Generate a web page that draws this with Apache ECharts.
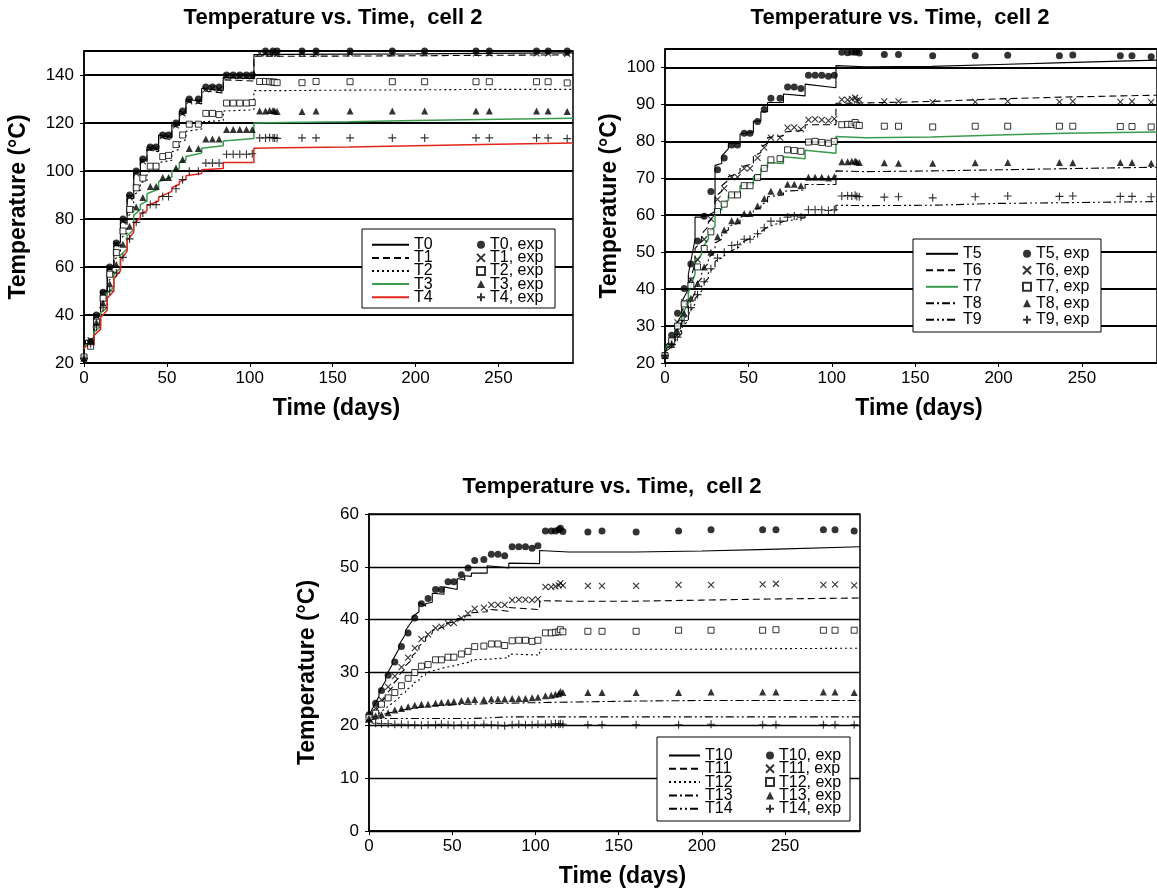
<!DOCTYPE html>
<html>
<head>
<meta charset="utf-8">
<title>Temperature vs. Time, cell 2</title>
<script src="https://cdn.jsdelivr.net/npm/echarts@6/dist/echarts.min.js"></script>
<style>
  html, body { margin: 0; padding: 0; background: #fff; }
  #chart { width: 1157px; height: 893px; }
</style>
</head>
<body>
<div id="chart"></div>
<script>
// measurement days (shared by all thermocouples)
const expDays = [0, 4, 7.5, 11.5, 15.5, 19.5, 23.5, 27.5, 31.5, 35.5,
  40, 43.5, 47.5, 51, 55.5, 59.5, 63.5, 69, 73.5, 77.5,
  81.5, 86, 90, 94, 98, 101.5, 106, 109.5, 112, 114,
  115, 116.5, 131.5, 140, 160.5, 186, 205.5, 236.5, 244.5, 273,
  280, 291.5];

// model output days (duplicated days = heater step)
const simDays = [0, 1, 6, 6, 10, 10, 14, 14, 18, 18,
  22, 22, 26, 26, 30, 30, 34, 34, 38, 38,
  45, 45, 53, 53, 57.5, 57.5, 61.5, 61.5, 71, 71,
  84, 84, 102.5, 102.5, 120, 160, 200, 240, 295];

// ---- panel 1 : T0 - T4
const t0Exp = [22, 29, 40, 49.5, 60, 70, 80, 90, 100, 105,
  110, 110, 115, 115, 120, 125, 130, 130, 135, 135,
  135, 140, 140, 140, 140, 140, 150.2, 150, 150.3, 150,
  150.2, 150, 150, 150, 150, 150, 150, 150, 150, 150,
  150, 150];
const t1Exp = [22, 29.5, 39.5, 49, 59.5, 69.5, 79, 89, 99, 104,
  109.5, 109.5, 114.5, 114.5, 119, 124, 129, 129, 134, 134.5,
  134, 139.5, 139.5, 139.5, 139.5, 139.5, 149, 149, 149.2, 149,
  149, 148.8, 149, 149, 149, 149, 149, 149, 149, 149,
  149, 148.8];
const t2Exp = [22.5, 27, 37, 47, 57, 66, 75, 84, 93, 97,
  102, 102, 106, 106.5, 111, 115, 119.5, 119.5, 124, 124,
  123.5, 128.3, 128.3, 128.3, 128.3, 128.5, 137.3, 137.3, 137.2, 137,
  137, 136.8, 136.8, 137.3, 137.2, 137.2, 137.2, 137.2, 137.2, 137.2,
  137.2, 136.7];
const t3Exp = [22, 29, 37, 45, 53, 61, 69.5, 77, 85, 89,
  93.5, 93.5, 97.3, 97.3, 101.2, 104.8, 109.4, 109.4, 113.3, 113.3,
  113.3, 117.3, 117.3, 117.3, 117.3, 117.3, 125, 125, 125.2, 125.2,
  125, 124.8, 124.8, 125, 125, 125, 125, 125, 125, 125,
  125, 124.8];
const t4Exp = [22, 28, 35, 43, 50, 57.5, 64, 71.7, 78.6, 82.5,
  86, 86, 89.4, 89.4, 92.6, 96.4, 99.9, 99.9, 103.3, 103.3,
  103.3, 107, 107, 107, 107, 107.2, 113.8, 113.8, 114, 113.8,
  113.8, 113.6, 113.8, 113.8, 113.8, 113.8, 113.8, 113.8, 113.8, 113.8,
  113.8, 113.5];

const t0Sim = [26, 29.5, 29.5, 40, 40, 50, 50, 60, 60, 70,
  70, 80, 79.5, 90, 89.5, 100, 99.5, 105, 104.5, 110,
  109, 115, 114, 120, 119, 125, 124, 130, 129, 134.5,
  133.5, 139, 138.5, 148.5, 148.6, 148.7, 148.8, 149, 149.2];
const t1Sim = [26, 29, 29, 39.5, 39.5, 49.5, 49.5, 59, 59, 69,
  69, 79, 78.5, 89, 88.5, 99, 98.5, 104, 103.5, 109,
  108, 114, 113, 119, 118, 124, 123, 129, 128, 133.5,
  132.5, 138, 137.5, 147.8, 147.8, 147.9, 148, 148.2, 148.4];
const t2Sim = [26, 28, 28.5, 36, 37, 45, 46.5, 54, 56, 63,
  65, 72, 74, 81, 83, 90, 92, 95, 96, 99.5,
  100.5, 103.5, 104.5, 108, 109, 112, 113, 116.5, 117.5, 120.5,
  121, 125, 125.5, 133.5, 133.5, 133.7, 133.8, 134, 134];
const t3Sim = [26, 27.5, 28, 33, 35, 41, 43, 49, 51.5, 57,
  59.5, 65, 67.5, 73, 75.5, 81.5, 84, 86, 87.5, 90.5,
  92.5, 95.5, 97.5, 100, 101, 103.5, 104.5, 106, 107.5, 109.5,
  110.5, 112.5, 113.5, 120, 120.2, 120.5, 121, 121.5, 122];
const t4Sim = [26, 27, 27.5, 31.5, 34, 39, 42, 47, 50, 55,
  58.5, 63, 66.5, 71, 74.5, 78, 80.5, 82, 83.5, 85.5,
  87.5, 89, 91.5, 93, 94.5, 95.5, 96.5, 98, 99, 100.5,
  101, 103.5, 103.5, 109.5, 109.7, 110, 110.5, 111, 111.7];

// ---- panel 2 : T5 - T9
const t5Exp = [22, 27.5, 33.5, 40.2, 46.8, 53, 59.7, 66.4, 72.3, 75.5,
  79, 79, 82.2, 82.2, 85.4, 88.6, 91.7, 91.7, 94.7, 94.7,
  94.3, 97.9, 97.9, 97.9, 97.6, 97.9, 104.1, 104, 104.2, 104.1,
  104.3, 103.9, 103.5, 103.5, 103.2, 103.2, 103.3, 103.2, 103.4, 103.2,
  103.2, 102.9];
const t6Exp = [22, 26, 31, 36.5, 42.5, 48, 53.5, 59, 64.3, 67.3,
  70.3, 70.3, 72.7, 72.7, 75.5, 78.3, 81, 81, 83.7, 83.8,
  83.3, 85.8, 86, 85.8, 85.6, 86.1, 91.3, 91.2, 91.5, 91.8,
  91, 91.2, 90.8, 90.8, 90.6, 90.7, 90.8, 90.7, 90.8, 90.7,
  90.8, 90.6];
const t7Exp = [22, 26, 30, 36, 41, 46, 51, 55.5, 61, 63,
  65.5, 65.5, 68, 68, 70.2, 72.7, 75, 75.3, 77.7, 77.5,
  77.3, 79.8, 80, 79.7, 79.5, 80, 84.5, 84.6, 84.6, 85.1,
  84.4, 84.3, 84.1, 84.1, 83.9, 84.1, 84.1, 84.1, 84.1, 84,
  84, 83.9];
const t8Exp = [22, 25, 28.5, 33.5, 37.5, 41.5, 46, 50, 54.2, 56,
  58.5, 58.5, 60.5, 60.5, 62.5, 64.5, 66.5, 66.5, 68.4, 68.4,
  68, 70.3, 70.3, 70.3, 70.1, 70.4, 74.5, 74.5, 74.6, 74.7,
  74.4, 74.3, 74.2, 74.1, 74.1, 74.2, 74.3, 74.3, 74.2, 74.3,
  74.3, 74.1];
const t9Exp = [22, 25, 27, 31.5, 35, 38.5, 42, 45.5, 48.4, 50,
  51.8, 52, 53.5, 53.5, 55, 56.6, 58.4, 58.4, 59.5, 59.8,
  59.5, 61.5, 61.5, 61.5, 61.3, 61.5, 65.2, 65.3, 65.2, 65.4,
  65.1, 65, 64.9, 65, 64.7, 65, 65.2, 65.1, 65.2, 65.1,
  65.1, 65];

const t5Sim = [23, 25, 27, 30, 33, 36.5, 40, 44, 53.5, 59.5,
  59.5, 59.5, 60, 60.5, 61, 73.5, 74, 76, 78, 79.5,
  79.5, 82, 82.5, 85.5, 85.5, 88, 88, 90.5, 90.5, 92.8,
  92.3, 95.5, 94.5, 100.5, 100.2, 100.3, 100.8, 101.3, 102];
const t6Sim = [23, 24.5, 26, 28.5, 31, 34, 37, 40.5, 47, 51,
  53, 55, 57, 58, 60, 65, 66.5, 68, 69.5, 70.5,
  71.5, 73, 74, 76, 77, 78.5, 79.5, 81, 81.5, 82.5,
  83, 84.5, 84.5, 90.3, 90.4, 90.8, 91.5, 92, 92.5];
const t7Sim = [23, 24.5, 26, 28, 30.5, 33, 36, 39, 44, 47,
  49.5, 51, 53.5, 55, 57, 60.5, 61.5, 63, 64, 65.5,
  66, 68, 68.5, 70.5, 71, 72.5, 73, 74.3, 74, 75.8,
  75.3, 77.6, 76.8, 81.3, 81, 81.2, 81.7, 82.2, 82.5];
const t8Sim = [23, 24, 25.5, 27, 29, 31, 33.5, 35.5, 39, 41,
  43, 45, 47, 48.5, 50, 52.5, 53.5, 55, 56, 57,
  58, 59.5, 60, 61.5, 62, 63, 63.5, 65, 65.5, 66.5,
  66.8, 68.3, 68.3, 72, 71.8, 72, 72.3, 72.6, 73];
const t9Sim = [23, 23.5, 25, 26, 28, 29.5, 31.5, 33, 36, 37.5,
  39.5, 41, 43, 44.5, 46, 47.5, 48.5, 49, 50, 50.5,
  51.5, 52.5, 54, 54.5, 55.5, 56, 56.8, 57.3, 58.3, 58.8,
  59.3, 60, 60, 62.7, 62.6, 62.7, 63.2, 63.4, 63.7];

// ---- panel 3 : T10 - T14
const t10Exp = [22, 24.2, 26.6, 29.5, 32, 34.9, 37.5, 40.3, 43, 44,
  45.7, 45.7, 47.2, 47.2, 48.5, 49.8, 51.2, 51.4, 52.4, 52.4,
  52.1, 53.8, 53.8, 53.8, 53.5, 54, 56.8, 56.8, 56.8, 57,
  57.3, 56.7, 56.6, 56.8, 56.6, 56.8, 57, 57, 57, 57,
  57, 56.8];
const t11Exp = [21.3, 23.2, 24.8, 27.3, 29.3, 31, 32.8, 34.6, 36.3, 37.2,
  38.4, 38.7, 39.3, 39.4, 40.3, 41.2, 42.1, 42.3, 42.8, 42.8,
  42.8, 43.7, 43.8, 43.8, 43.7, 43.9, 46.2, 46.2, 46.3, 46.5,
  46.9, 46.5, 46.4, 46.4, 46.4, 46.6, 46.6, 46.7, 46.8, 46.6,
  46.7, 46.5];
const t12Exp = [21.5, 22.3, 24, 25.2, 26.2, 27.5, 28.9, 30, 31.2, 31.5,
  32.4, 32.4, 32.9, 32.9, 33.5, 34, 34.9, 35, 35.4, 35.4,
  35.1, 36, 36.1, 36.1, 35.9, 36.1, 37.5, 37.5, 37.6, 37.7,
  38.1, 37.7, 37.8, 37.8, 37.8, 38, 38, 38, 38.1, 38,
  38, 38];
const t13Exp = [21.3, 21.8, 22, 22.4, 22.9, 23.2, 23.5, 23.8, 24, 24,
  24.2, 24.3, 24.4, 24.5, 24.7, 24.8, 24.9, 24.9, 25, 25,
  25, 25.1, 25.1, 25.1, 25.2, 25.3, 25.6, 25.7, 25.9, 26,
  26.4, 26.2, 26.2, 26.2, 26.2, 26.2, 26.3, 26.3, 26.3, 26.3,
  26.3, 26.2];
const t14Exp = [20.6, 20.4, 20.3, 20.3, 20.2, 20.2, 20.1, 20.1, 20, 20.1,
  20.1, 20.2, 20.1, 20, 20.1, 20, 20.1, 20.2, 20.1, 20,
  19.9, 20.1, 20.2, 20.1, 20.1, 20.2, 20.2, 20.2, 20.3, 20.2,
  20.3, 20.2, 20.1, 20.1, 20.1, 20.1, 20.2, 20.1, 20.1, 20.1,
  20.1, 20.1];

const t10Sim = [21.6, 22.5, 25.5, 26.2, 28.5, 29.3, 31.5, 32.2, 34.5, 35.2,
  37.3, 38, 39.8, 40.5, 41.5, 43.3, 42.6, 43, 43.3, 45,
  44.8, 46.2, 45.7, 47.8, 47.5, 48.3, 48.2, 48.8, 48.8, 50.2,
  49.8, 50.7, 50.6, 53.1, 52.8, 52.8, 53, 53.3, 53.8];
const t11Sim = [21.5, 22, 23.5, 24, 25.3, 25.8, 27.2, 27.7, 29, 29.5,
  30.8, 31.3, 32.5, 33.2, 34.3, 35, 36, 36.6, 37.4, 38,
  38.6, 39.2, 39.7, 40.2, 40.3, 40.7, 40.8, 41.3, 41.5, 42,
  41.6, 42.3, 41.9, 43.6, 43.5, 43.5, 43.7, 43.9, 44.1];
const t12Sim = [21.5, 21.7, 22.3, 22.5, 23.2, 23.4, 24.2, 24.5, 25.2, 25.6,
  26.3, 26.7, 27.4, 27.9, 28.5, 29, 29.5, 29.9, 30.3, 30.6,
  30.9, 31.2, 31.4, 31.7, 31.8, 32, 32, 32.4, 32.5, 32.8,
  32.8, 33.5, 33.3, 34.4, 34.4, 34.4, 34.4, 34.5, 34.6];
const t13Sim = [21.3, 21.5, 21.9, 22, 22.2, 22.3, 22.5, 22.6, 22.8, 22.9,
  23, 23.1, 23.2, 23.3, 23.4, 23.5, 23.5, 23.6, 23.7, 23.7,
  23.8, 23.9, 23.9, 24, 24, 24, 24, 24.1, 24.1, 24.2,
  24.2, 24.3, 24.3, 24.6, 24.4, 24.6, 24.7, 24.7, 24.7];
const t14Sim = [21, 21.2, 21.3, 21.3, 21.3, 21.3, 21.3, 21.3, 21.3, 21.3,
  21.3, 21.3, 21.3, 21.3, 21.3, 21.3, 21.3, 21.3, 21.3, 21.3,
  21.3, 21.3, 21.3, 21.3, 21.3, 21.3, 21.3, 21.3, 21.4, 21.5,
  21.6, 21.6, 21.6, 21.6, 21.6, 21.6, 21.6, 21.6, 21.6];

const TITLE = 'Temperature vs. Time,  cell 2';
const FONT = '"Liberation Sans", Arial, sans-serif';
const GREEN = '#3b9b4d';
const RED = '#e2261d';
const DASH = [7, 4];
const DOT = [2, 3];
const DASHDOT = [8, 3, 2, 3];
const DASHDOTDOT = [8, 3, 2, 3, 2, 3];

// exp markers: dot, cross, open square, triangle, plus
const MARKS = [
  { symbol: 'circle', size: 7, style: { color: '#000' } },
  { symbol: 'path://M0,0L10,10M10,0L0,10', size: 6, style: { color: '#000', borderColor: '#000', borderWidth: 1.1 } },
  { symbol: 'rect', size: 6, style: { color: '#fff', borderColor: '#000', borderWidth: 1 } },
  { symbol: 'triangle', size: 7, style: { color: '#000' } },
  { symbol: 'path://M5,0L5,10M0,5L10,5', size: 8, style: { color: '#000', borderColor: '#000', borderWidth: 1.1 } }
];

const panels = [
  {
    names: ['T0', 'T1', 'T2', 'T3', 'T4'],
    exp: [t0Exp, t1Exp, t2Exp, t3Exp, t4Exp],
    sim: [t0Sim, t1Sim, t2Sim, t3Sim, t4Sim],
    lines: [['#000', 'solid', 1.1], ['#000', DASH, 1.1], ['#000', DOT, 1.1], [GREEN, 'solid', 1.5], [RED, 'solid', 1.5]],
    grid: { left: 84, top: 51, width: 489, height: 312 },
    y: [20, 150, 20], gridW: 1.8, yGap: 54,
    title: [333, 18],
    box: [362, 229, 193, 79], rowH: 13.1, row0: 244.3, lineX: 371, lineW: 37, expX: 476
  },
  {
    names: ['T5', 'T6', 'T7', 'T8', 'T9'],
    exp: [t5Exp, t6Exp, t7Exp, t8Exp, t9Exp],
    sim: [t5Sim, t6Sim, t7Sim, t8Sim, t9Sim],
    lines: [['#000', 'solid', 1.1], ['#000', DASH, 1.1], [GREEN, 'solid', 1.5], ['#000', DASHDOT, 1.1], ['#000', DASHDOTDOT, 1.1]],
    grid: { left: 665, top: 49, width: 494, height: 314 },
    y: [20, 105, 10], gridW: 1.8, yGap: 44,
    title: [900, 18],
    box: [913, 239, 188, 93], rowH: 16.5, row0: 253.3, lineX: 925, lineW: 32, expX: 1022
  },
  {
    names: ['T10', 'T11', 'T12', 'T13', 'T14'],
    exp: [t10Exp, t11Exp, t12Exp, t13Exp, t14Exp],
    sim: [t10Sim, t11Sim, t12Sim, t13Sim, t14Sim],
    lines: [['#000', 'solid', 1.1], ['#000', DASH, 1.1], ['#000', DOT, 1.1], ['#000', DASHDOT, 1.1], ['#000', DASHDOTDOT, 1.1]],
    grid: { left: 369, top: 514, width: 491, height: 317 },
    y: [0, 60, 10], gridW: 1.3, yGap: 50,
    title: [612, 487],
    box: [657, 737, 193, 84], rowH: 13.3, row0: 755, lineX: 668, lineW: 31, expX: 765
  }
];

function pairs(xs, ys) {
  return xs.map(function (x, i) { return [x, ys[i]]; });
}

const grids = [], xAxes = [], yAxes = [], series = [], legends = [], graphics = [];

panels.forEach(function (p, pi) {
  grids.push(Object.assign({ show: true, borderColor: '#000', borderWidth: 1.5, containLabel: false }, p.grid));

  xAxes.push({
    type: 'value', gridIndex: pi, min: 0, max: 295, interval: 50,
    axisLine: { show: true, onZero: false, lineStyle: { color: '#000', width: 1.5 } },
    axisTick: { show: true, length: 4, lineStyle: { color: '#000' } },
    axisLabel: { color: '#000', fontSize: 17, fontFamily: FONT, margin: 7, showMaxLabel: false },
    splitLine: { show: false },
    name: 'Time (days)', nameLocation: 'middle', nameGap: 34,
    nameTextStyle: { color: '#000', fontSize: 23, fontWeight: 'bold', fontFamily: FONT, padding: [0, 0, 0, 16] }
  });

  yAxes.push({
    type: 'value', gridIndex: pi, min: p.y[0], max: p.y[1], interval: p.y[2],
    axisLine: { show: true, onZero: false, lineStyle: { color: '#000', width: 1.5 } },
    axisTick: { show: true, length: 4, lineStyle: { color: '#000' } },
    axisLabel: { color: '#000', fontSize: 17, fontFamily: FONT, margin: 10, showMaxLabel: p.y[1] % p.y[2] === 0 },
    splitLine: { show: true, lineStyle: { color: '#000', width: p.gridW } },
    name: 'Temperature (°C)', nameLocation: 'middle', nameGap: p.yGap, nameRotate: 90,
    nameTextStyle: { color: '#000', fontSize: 23, fontWeight: 'bold', fontFamily: FONT }
  });

  p.names.forEach(function (n, k) {
    const ls = p.lines[k];
    series.push({
      name: n, type: 'line', xAxisIndex: pi, yAxisIndex: pi,
      data: pairs(simDays, p.sim[k]),
      symbol: 'none', z: 2,
      lineStyle: { color: ls[0], type: ls[1], width: ls[2] },
      itemStyle: { color: ls[0] }
    });
  });
  p.names.forEach(function (n, k) {
    const m = MARKS[k];
    series.push({
      name: n + ', exp', type: 'scatter', xAxisIndex: pi, yAxisIndex: pi,
      data: pairs(expDays, p.exp[k]),
      symbol: m.symbol, symbolSize: m.size, z: 3,
      itemStyle: m.style
    });
  });

  // legend rows come out 16px tall, pull them together to the reference spacing
  const gap = p.rowH - 16;
  const legendText = { color: '#000', fontSize: 16, fontFamily: FONT };
  legends.push({
    orient: 'vertical', left: p.lineX, top: p.row0 - 7.5, padding: 0, itemGap: gap,
    itemWidth: p.lineW, itemHeight: 10, selectedMode: false,
    itemStyle: { opacity: 0 },
    data: p.names, textStyle: legendText
  });
  legends.push({
    orient: 'vertical', left: p.expX, top: p.row0 - 7.5, padding: 0, itemGap: gap,
    itemWidth: 8, itemHeight: 8, selectedMode: false,
    data: p.names.map(function (n) { return n + ', exp'; }), textStyle: legendText
  });

  graphics.push({
    type: 'rect', z: 3,
    shape: { x: p.box[0], y: p.box[1], width: p.box[2], height: p.box[3] },
    style: { fill: '#fff', stroke: '#000', lineWidth: 1 }
  });
  graphics.push({
    type: 'text', x: p.title[0], y: p.title[1],
    style: { text: TITLE, fill: '#000', font: 'bold 22px ' + FONT, align: 'center', verticalAlign: 'middle' }
  });
});

const chart = echarts.init(document.getElementById('chart'), null, { renderer: 'canvas' });
chart.setOption({
  backgroundColor: '#fff',
  animation: false,
  grid: grids,
  xAxis: xAxes,
  yAxis: yAxes,
  legend: legends,
  graphic: graphics,
  series: series
});
</script>
</body>
</html>
